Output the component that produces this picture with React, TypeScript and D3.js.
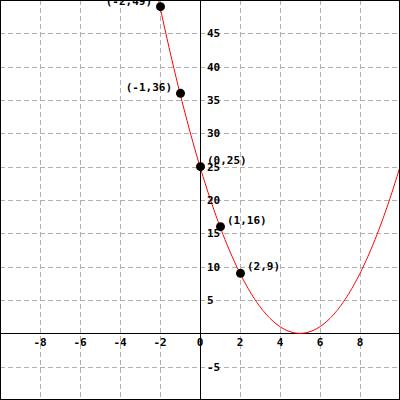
import React from "react";
import * as d3 from "d3";

const xTicks = [-8, -6, -4, -2, 0, 2, 4, 6, 8];
const yTicks = [-5, 5, 10, 15, 20, 25, 30, 35, 40, 45];
const gridX = [-8, -6, -4, -2, 2, 4, 6, 8];
const gridY = [-5, 5, 10, 15, 20, 25, 30, 35, 40, 45];
const pointX = [-2, -1, 0, 1, 2];
const pointY = [49, 36, 25, 16, 9];
const pointLabels = ["(-2,49)", "(-1,36)", "(0,25)", "(1,16)", "(2,9)"];
const curveA = 1;
const curveH = 5;
const curveK = 0;

const W = 400;
const H = 400;
const FONT = "'DejaVu Sans Mono', 'Liberation Mono', monospace";

export default function App() {
  const x = d3.scaleLinear().domain([-10, 10]).range([0, W]);
  const y = d3.scaleLinear().domain([-10, 50]).range([H, 0]);
  const f = (t: number) => curveA * (t - curveH) * (t - curveH) + curveK;
  const xs = d3.range(-10, 10.0001, 0.05);
  const line = d3
    .line<number>()
    .x((t) => x(t))
    .y((t) => y(f(t)));

  return (
    <svg
      width={W}
      height={H}
      style={{ position: "fixed", left: 0, top: 0, background: "#fff" }}
    >
      <defs>
        <clipPath id="plot">
          <rect x={0} y={0} width={W} height={H} />
        </clipPath>
      </defs>
      <rect x={0} y={0} width={W} height={H} fill="#fff" />
      <g stroke="#b0b0b0" strokeWidth={1} strokeDasharray="5,3">
        {gridX.map((v) => (
          <line key={"gx" + v} x1={x(v) + 0.5} x2={x(v) + 0.5} y1={0} y2={H} />
        ))}
        {gridY.map((v) => (
          <line key={"gy" + v} x1={0} x2={W} y1={Math.round(y(v)) + 0.5} y2={Math.round(y(v)) + 0.5} />
        ))}
      </g>
      <line x1={0} x2={W} y1={Math.round(y(0)) + 0.5} y2={Math.round(y(0)) + 0.5} stroke="#000" strokeWidth={1} />
      <line x1={x(0) + 0.5} x2={x(0) + 0.5} y1={0} y2={H} stroke="#000" strokeWidth={1} />
      <g clipPath="url(#plot)">
        <path d={line(xs) ?? ""} fill="none" stroke="#ff0000" strokeWidth={1} />
      </g>
      <g fontFamily={FONT} fontWeight="bold" fontSize={11} fill="#000">
        {xTicks.map((v) => (
          <text key={"xt" + v} x={x(v)} y={Math.round(y(0)) + 13} textAnchor="middle">
            {String(v)}
          </text>
        ))}
        {yTicks.map((v) => (
          <text key={"yt" + v} x={x(0) + 7} y={y(v) + 4} textAnchor="start">
            {String(v)}
          </text>
        ))}
      </g>
      <g clipPath="url(#plot)">
        {pointX.map((px, i) => (
          <circle key={"p" + i} cx={x(px) + 0.5} cy={y(pointY[i])} r={4.5} fill="#000" />
        ))}
        <g fontFamily={FONT} fontWeight="bold" fontSize={11} fill="#000">
          {pointX.map((px, i) =>
            px < 0 ? (
              <text key={"pl" + i} x={x(px) - 8} y={y(pointY[i]) - 2} textAnchor="end">
                {pointLabels[i]}
              </text>
            ) : (
              <text key={"pl" + i} x={x(px) + 7} y={y(pointY[i]) - 3} textAnchor="start">
                {pointLabels[i]}
              </text>
            )
          )}
        </g>
      </g>
      <rect x={0.5} y={0.5} width={W - 1} height={H - 1} fill="none" stroke="#000" strokeWidth={1} />
    </svg>
  );
}
